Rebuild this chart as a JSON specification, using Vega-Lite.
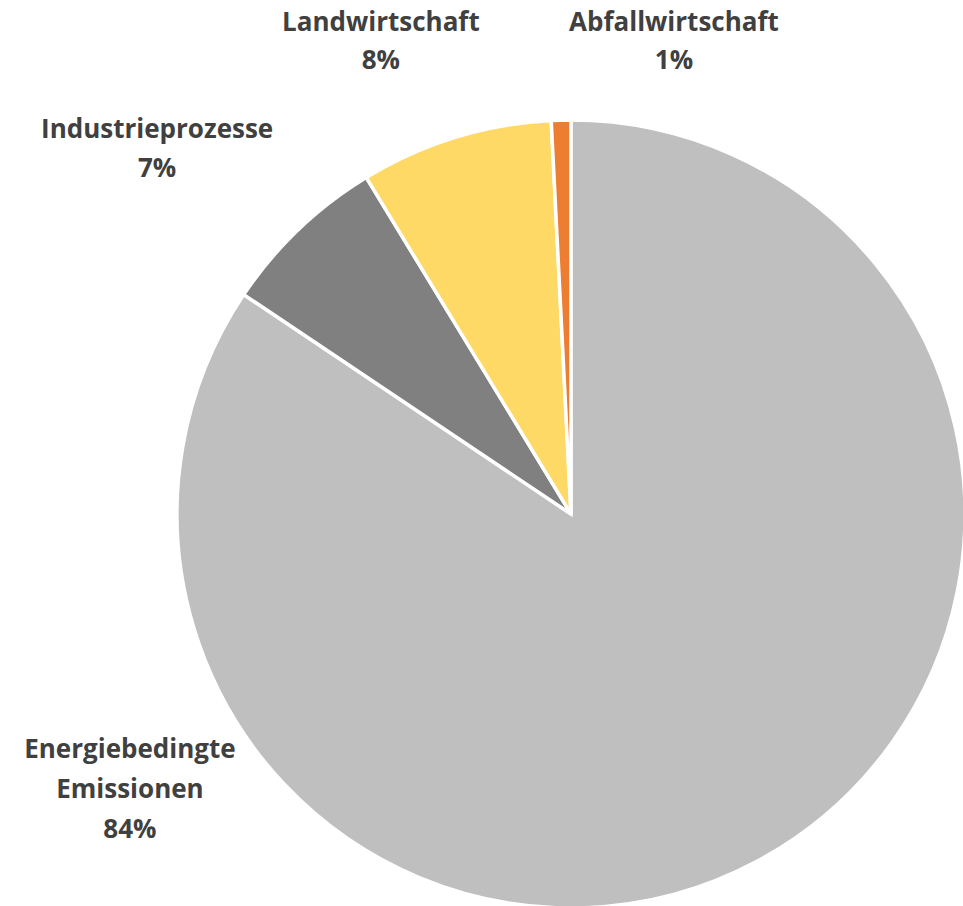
{
  "$schema": "https://vega.github.io/schema/vega-lite/v6.json",
  "width": 784,
  "height": 784,
  "autosize": {"type": "none"},
  "padding": {"left": 179, "top": 122, "right": 0, "bottom": 0},
  "background": "white",
  "config": {"view": {"stroke": null}},
  "data": {
    "values": [
      {"sector": "Energiebedingte Emissionen", "label": "Energiebedingte\nEmissionen\n84%", "share": 84.4, "ord": 1},
      {"sector": "Industrieprozesse", "label": "Industrieprozesse\n7%", "share": 6.9, "ord": 2},
      {"sector": "Landwirtschaft", "label": "Landwirtschaft\n8%", "share": 7.9, "ord": 3},
      {"sector": "Abfallwirtschaft", "label": "Abfallwirtschaft\n1%", "share": 0.8, "ord": 4}
    ]
  },
  "encoding": {
    "theta": {"field": "share", "type": "quantitative", "stack": true},
    "order": {"field": "ord", "type": "quantitative"}
  },
  "layer": [
    {
      "mark": {"type": "arc", "radius": 394, "stroke": "white", "strokeWidth": 3.5},
      "encoding": {
        "color": {
          "field": "sector",
          "type": "nominal",
          "scale": {
            "domain": ["Energiebedingte Emissionen", "Industrieprozesse", "Landwirtschaft", "Abfallwirtschaft"],
            "range": ["#BFBFBF", "#808080", "#FFD966", "#ED7D31"]
          },
          "legend": null
        }
      }
    },
    {
      "mark": {"type": "text", "radius": 480, "dx": -667, "dy": -179, "align": "center", "baseline": "alphabetic", "lineBreak": "\n", "lineHeight": 40, "font": "Open Sans", "fontWeight": "bold", "fontSize": 26, "fill": "#404040"},
      "encoding": {"text": {"condition": {"test": "datum.ord === 1", "field": "label"}, "value": ""}}
    },
    {
      "mark": {"type": "text", "radius": 480, "dx": -82, "dy": -29, "align": "center", "baseline": "alphabetic", "lineBreak": "\n", "lineHeight": 39, "font": "Open Sans", "fontWeight": "bold", "fontSize": 26, "fill": "#404040"},
      "encoding": {"text": {"condition": {"test": "datum.ord === 2", "field": "label"}, "value": ""}}
    },
    {
      "mark": {"type": "text", "radius": 480, "dx": -49, "dy": -24, "align": "center", "baseline": "alphabetic", "lineBreak": "\n", "lineHeight": 38, "font": "Open Sans", "fontWeight": "bold", "fontSize": 26, "fill": "#404040"},
      "encoding": {"text": {"condition": {"test": "datum.ord === 3", "field": "label"}, "value": ""}}
    },
    {
      "mark": {"type": "text", "radius": 480, "dx": 115, "dy": -3, "align": "center", "baseline": "alphabetic", "lineBreak": "\n", "lineHeight": 38, "font": "Open Sans", "fontWeight": "bold", "fontSize": 26, "fill": "#404040"},
      "encoding": {"text": {"condition": {"test": "datum.ord === 4", "field": "label"}, "value": ""}}
    }
  ]
}
